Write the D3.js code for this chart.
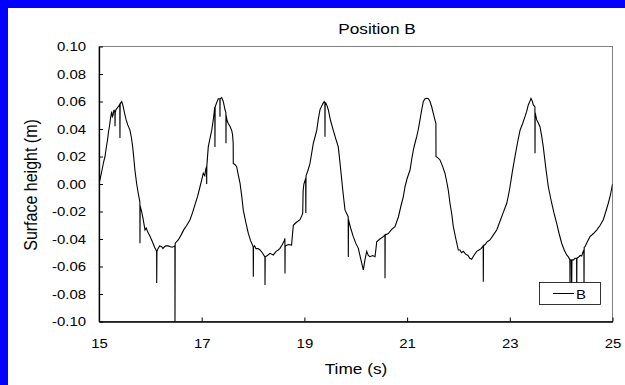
<!DOCTYPE html>
<html><head><meta charset="utf-8">
<script src="https://cdn.jsdelivr.net/npm/d3@7"></script>
<style>
html,body{margin:0;padding:0;background:#fff;overflow:hidden;}
svg{display:block;font-family:"Liberation Sans",Arial,sans-serif;}
</style></head>
<body>
<svg id="chart" width="625" height="385"></svg>
<script>
const chartTitle = "Position B";
const xTitle = "Time (s)";
const yTitle = "Surface height (m)";
const seriesName = "B";
const xTicks = [15, 17, 19, 21, 23, 25];
const yTicks = [-0.10, -0.08, -0.06, -0.04, -0.02, 0.00, 0.02, 0.04, 0.06, 0.08, 0.10];

const time = [
15.000,15.030,15.058,15.090,15.117,15.140,15.166,15.185,15.204,15.225,15.247,15.260,15.273,15.292,15.310,15.312,15.316,15.330,15.350,15.370,15.390,15.405,15.408,15.412,15.425,15.442,15.467,15.495,15.526,15.560,15.604,15.630,15.656,15.680,15.700,15.734,15.770,15.796,15.798,15.802,15.830,15.857,15.896,15.920,15.950,15.993,16.040,16.090,16.122,16.124,16.128,16.149,16.180,16.221,16.245,16.266,16.300,16.344,16.380,16.422,16.455,16.478,16.480,16.484,16.544,16.600,16.655,16.710,16.772,16.820,16.870,16.920,16.967,17.000,17.031,17.060,17.080,17.095,17.097,17.100,17.128,17.160,17.195,17.230,17.255,17.258,17.262,17.290,17.323,17.354,17.356,17.359,17.389,17.420,17.454,17.471,17.473,17.476,17.495,17.518,17.550,17.584,17.600,17.613,17.615,17.650,17.681,17.710,17.746,17.780,17.810,17.860,17.907,17.950,18.003,18.005,18.009,18.030,18.057,18.100,18.135,18.180,18.231,18.233,18.237,18.280,18.330,18.394,18.450,18.490,18.525,18.570,18.610,18.620,18.622,18.626,18.690,18.750,18.770,18.784,18.840,18.914,18.950,18.967,18.975,18.990,19.025,19.028,19.032,19.070,19.109,19.140,19.173,19.205,19.240,19.270,19.304,19.340,19.368,19.385,19.399,19.401,19.404,19.415,19.440,19.465,19.510,19.563,19.610,19.660,19.700,19.746,19.770,19.791,19.830,19.853,19.855,19.859,19.900,19.952,20.000,20.050,20.100,20.147,20.180,20.213,20.245,20.277,20.330,20.375,20.400,20.408,20.470,20.537,20.568,20.570,20.574,20.634,20.700,20.764,20.830,20.880,20.926,20.959,21.000,21.056,21.090,21.121,21.155,21.187,21.220,21.251,21.285,21.316,21.350,21.382,21.415,21.446,21.480,21.510,21.540,21.561,21.563,21.600,21.641,21.690,21.738,21.770,21.802,21.835,21.870,21.900,21.950,21.997,22.030,22.060,22.095,22.140,22.186,22.220,22.258,22.300,22.355,22.400,22.440,22.482,22.484,22.488,22.520,22.560,22.614,22.680,22.745,22.800,22.870,22.940,22.975,23.004,23.050,23.101,23.150,23.199,23.250,23.296,23.330,23.360,23.390,23.413,23.440,23.458,23.489,23.491,23.494,23.524,23.560,23.588,23.620,23.652,23.700,23.750,23.816,23.860,23.913,23.960,24.010,24.060,24.108,24.140,24.170,24.172,24.176,24.200,24.205,24.210,24.237,24.270,24.301,24.303,24.307,24.334,24.370,24.400,24.420,24.443,24.445,24.449,24.465,24.510,24.562,24.630,24.692,24.760,24.821,24.870,24.918,24.960,25.000];

const height = [
0.000,0.005,0.010,0.016,0.020,0.026,0.032,0.038,0.042,0.048,0.0526,0.049,0.050,0.054,0.052,0.042,0.052,0.054,0.055,0.056,0.057,0.058,0.0335,0.058,0.059,0.060,0.057,0.052,0.047,0.043,0.039,0.034,0.027,0.018,0.010,0.000,-0.008,-0.013,-0.043,-0.016,-0.020,-0.025,-0.0335,-0.032,-0.035,-0.038,-0.042,-0.0466,-0.049,-0.072,-0.049,-0.047,-0.045,-0.0456,-0.047,-0.046,-0.045,-0.045,-0.0455,-0.046,-0.0455,-0.045,-0.100,-0.043,-0.0407,-0.037,-0.033,-0.030,-0.026,-0.021,-0.015,-0.009,-0.002,0.003,0.0078,0.006,0.011,0.0126,0.000,0.013,0.027,0.033,0.039,0.048,0.056,0.027,0.056,0.059,0.062,0.062,0.049,0.062,0.0628,0.060,0.054,0.052,0.0296,0.050,0.046,0.044,0.042,0.039,0.036,0.030,0.015,0.014,0.0126,0.007,0.0007,-0.009,-0.019,-0.028,-0.0358,-0.041,-0.0456,-0.0674,-0.046,-0.045,-0.047,-0.047,-0.048,-0.050,-0.053,-0.0735,-0.053,-0.052,-0.0504,-0.0516,-0.049,-0.048,-0.0468,-0.044,-0.041,-0.0395,-0.065,-0.045,-0.044,-0.0444,-0.036,-0.030,-0.028,-0.026,-0.023,-0.0213,-0.005,0.000,0.004,-0.021,0.006,0.010,0.015,0.022,0.0296,0.034,0.039,0.047,0.054,0.057,0.059,0.060,0.059,0.0344,0.059,0.059,0.057,0.054,0.046,0.039,0.033,0.027,0.013,-0.004,-0.012,-0.019,-0.022,-0.0238,-0.053,-0.026,-0.032,-0.0383,-0.043,-0.0468,-0.055,-0.0625,-0.055,-0.049,-0.052,-0.0529,-0.052,-0.0529,-0.045,-0.042,-0.040,-0.0383,-0.037,-0.0686,-0.037,-0.036,-0.033,-0.031,-0.024,-0.016,-0.0093,-0.002,0.004,0.010,0.018,0.0247,0.030,0.0344,0.040,0.0466,0.054,0.060,0.062,0.0623,0.062,0.060,0.056,0.0514,0.047,0.044,0.020,0.019,0.0175,0.013,0.0078,0.002,-0.0044,-0.014,-0.022,-0.031,-0.040,-0.048,-0.048,-0.050,-0.049,-0.051,-0.052,-0.054,-0.0548,-0.052,-0.049,-0.048,-0.047,-0.045,-0.071,-0.045,-0.044,-0.042,-0.0407,-0.037,-0.0335,-0.028,-0.021,-0.014,-0.008,-0.002,0.009,0.020,0.030,0.039,0.044,0.049,0.053,0.0575,0.060,0.0623,0.060,0.0575,0.056,0.0223,0.052,0.0466,0.044,0.0417,0.035,0.027,0.012,-0.002,-0.014,-0.021,-0.0286,-0.036,-0.0431,-0.048,-0.0516,-0.053,-0.055,-0.080,-0.055,-0.056,-0.080,-0.055,-0.0553,-0.054,-0.054,-0.080,-0.054,-0.0533,-0.052,-0.0524,-0.050,-0.048,-0.080,-0.046,-0.0456,-0.042,-0.0383,-0.036,-0.0335,-0.030,-0.026,-0.020,-0.014,-0.008,0.000];

const svg = d3.select("#chart");
const W = 625, H = 385;
const plot = {left: 99, right: 612.5, top: 46.5, bottom: 321.5};
const SX = 1.15; // horizontal stretch of text glyphs
const FONT = "'Liberation Sans',Arial,sans-serif";

// blue frame (top and left only)
svg.append("rect").attr("x",0).attr("y",0).attr("width",W).attr("height",8).attr("fill","#0000ff");
svg.append("rect").attr("x",0).attr("y",0).attr("width",8).attr("height",H).attr("fill","#0000ff");

const x = d3.scaleLinear().domain([15, 25]).range([plot.left, plot.right]);
const y = d3.scaleLinear().domain([-0.10, 0.10]).range([plot.bottom, plot.top]);

// plot border (top/right grey)
svg.append("rect").attr("x",plot.left).attr("y",plot.top)
  .attr("width",plot.right-plot.left).attr("height",plot.bottom-plot.top)
  .attr("fill","none").attr("stroke","#808080").attr("stroke-width",1);

const data = time.map((t,i)=>({t, v: height[i]}));
svg.append("clipPath").attr("id","clip").append("rect")
  .attr("x",plot.left).attr("y",plot.top).attr("width",plot.right-plot.left).attr("height",plot.bottom-plot.top+1);

svg.append("path").datum(data)
  .attr("clip-path","url(#clip)")
  .attr("fill","none").attr("stroke","#000").attr("stroke-width",1.1)
  .attr("d", d3.line().x(d=>x(d.t)).y(d=>y(d.v)));

// axes
const xAxis = d3.axisBottom(x).tickValues(xTicks).tickSizeInner(-4).tickSizeOuter(0).tickPadding(17).tickFormat(d3.format("d"));
const gx = svg.append("g").attr("transform",`translate(0,${plot.bottom})`).call(xAxis);
const yPad = 13;
const yAxis = d3.axisLeft(y).tickValues(yTicks).tickSizeInner(-4).tickSizeOuter(0).tickPadding(yPad).tickFormat(d=>d.toFixed(2));
const gy = svg.append("g").attr("transform",`translate(${plot.left},0)`).call(yAxis);
[gx,gy].forEach(g=>{
  g.select(".domain").attr("stroke","#000").attr("stroke-width",1.3);
  g.selectAll(".tick line").attr("stroke","#000");
  g.selectAll("text").attr("fill","#000").style("font-size","13px").style("font-family",FONT)
    .attr("transform",`scale(${SX},1)`);
});
gy.selectAll("text").attr("x", -yPad/SX);

// titles
svg.append("text").attr("transform",`translate(377,34) scale(${SX},1)`).attr("text-anchor","middle")
  .style("font-size","15px").style("font-family",FONT).text(chartTitle);
svg.append("text").attr("transform",`translate(356,374) scale(${SX},1)`).attr("text-anchor","middle")
  .style("font-size","15px").style("font-family",FONT).text(xTitle);
svg.append("text").attr("transform",`translate(37,185) scale(${SX},1) rotate(-90)`).attr("text-anchor","middle")
  .style("font-size","16px").style("font-family",FONT).text(yTitle);

// legend
const lg = svg.append("g");
lg.append("rect").attr("x",539.5).attr("y",282.5).attr("width",61).attr("height",22)
  .attr("fill","#fff").attr("stroke","#000").attr("stroke-width",0.8);
lg.append("line").attr("x1",553).attr("x2",574).attr("y1",293.5).attr("y2",293.5).attr("stroke","#000");
lg.append("text").attr("transform",`translate(576,298.5) scale(${SX},1)`)
  .style("font-size","13px").style("font-family",FONT).text(seriesName);
</script>
</body></html>
